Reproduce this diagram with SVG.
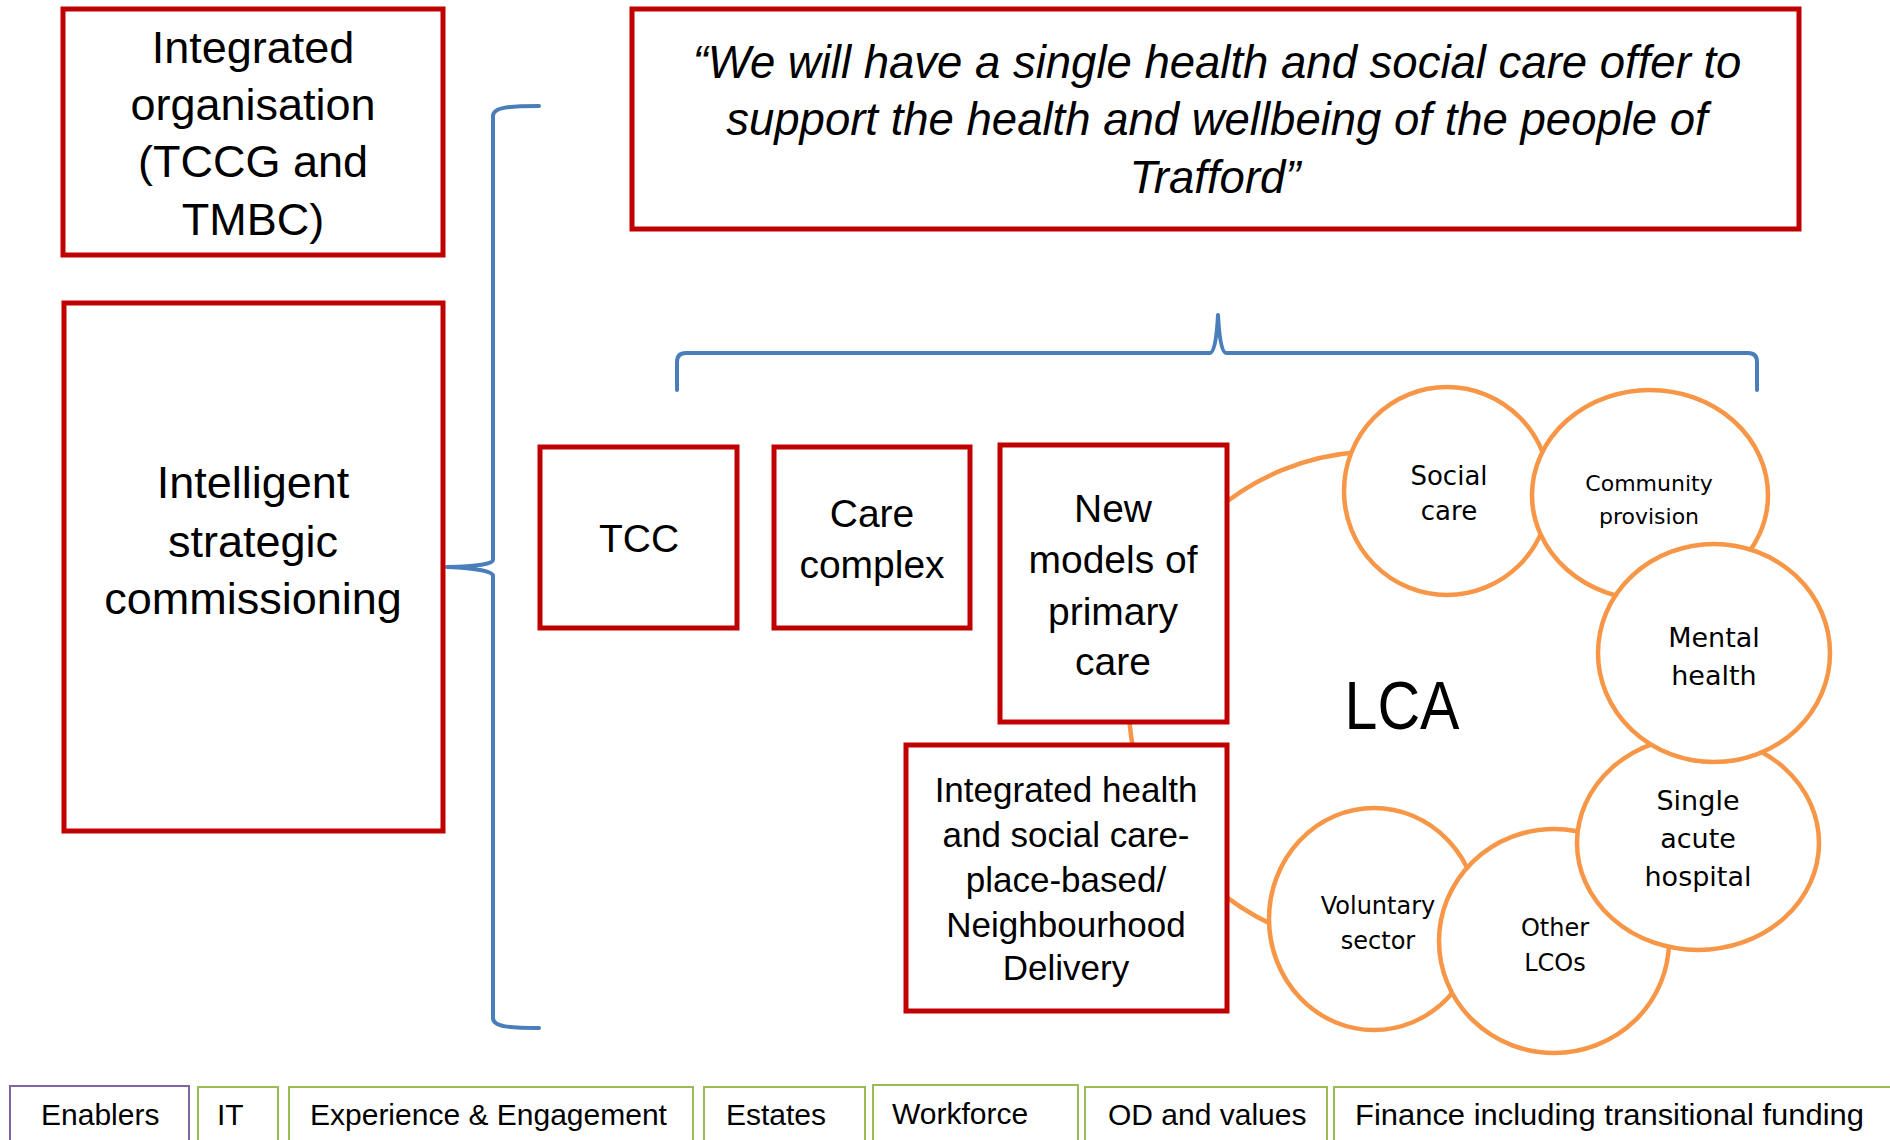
<svg xmlns="http://www.w3.org/2000/svg" width="1890" height="1140" viewBox="0 0 1890 1140">
<style>
.box{fill:#fff;stroke:#c00000;stroke-width:5}
.circ{fill:#fff;stroke:#f79646;stroke-width:4.5}
.brace{fill:none;stroke:#4a7ebb;stroke-width:4;stroke-linejoin:round;stroke-linecap:round}
.arc{fill:none;stroke:#f79646;stroke-width:4.5}
.t{font-family:"Liberation Sans",Arial,sans-serif;fill:#000;text-anchor:middle}
.c{font-family:"DejaVu Sans",Verdana,sans-serif;fill:#000;text-anchor:middle}
.q{font-family:"Liberation Sans",Arial,sans-serif;font-style:italic;fill:#000;text-anchor:middle;font-size:45.5px}
.en{fill:#fff;stroke:#9bbb59;stroke-width:2}
.et{font-family:"Liberation Sans",Arial,sans-serif;fill:#000;font-size:30px}
</style>
<rect width="1890" height="1140" fill="#fff"/>
<g id="connectors">
<path class="arc" d="M1360 452 A248 248 0 0 0 1280 928"/>
<path class="brace" d="M539 106 C510 106 493 107 493 116 L493 560 Q493 566 447 567 Q493 569 493 576 L493 1018 C493 1027 510 1028 539 1028"/>
<path class="brace" d="M677 390 L677 362 Q677 353 686 353 L1210 353 Q1216 353 1218 315 Q1220 353 1226 353 L1748 353 Q1757 353 1757 362 L1757 390"/>
</g>
<g id="n-integrated-org">
<rect class="box" x="63" y="9" width="380" height="246"/>
<text class="t" font-size="45"><tspan x="253" y="63">Integrated</tspan><tspan x="253" y="120">organisation</tspan><tspan x="253" y="177">(TCCG and</tspan><tspan x="253" y="235">TMBC)</tspan></text>
</g>
<g id="n-commissioning">
<rect class="box" x="64" y="303" width="379" height="528"/>
<text class="t" font-size="45"><tspan x="253" y="498">Intelligent</tspan><tspan x="253" y="557">strategic</tspan><tspan x="253" y="614">commissioning</tspan></text>
</g>
<g id="n-quote">
<rect class="box" x="632" y="9" width="1167" height="220"/>
<text class="q"><tspan x="1217" y="78">“We will have a single health and social care offer to</tspan><tspan x="1217" y="135">support the health and wellbeing of the people of</tspan><tspan x="1215" y="193">Trafford”</tspan></text>
</g>
<g id="n-tcc">
<rect class="box" x="540" y="447" width="197" height="181"/>
<text class="t" font-size="39" x="639" y="552">TCC</text>
</g>
<g id="n-care-complex">
<rect class="box" x="774" y="447" width="196" height="181"/>
<text class="t" font-size="39"><tspan x="872" y="527">Care</tspan><tspan x="872" y="578">complex</tspan></text>
</g>
<g id="n-new-models">
<rect class="box" x="1000" y="445" width="227" height="277"/>
<text class="t" font-size="39"><tspan x="1113" y="522">New</tspan><tspan x="1113" y="573">models of</tspan><tspan x="1113" y="625">primary</tspan><tspan x="1113" y="675">care</tspan></text>
</g>
<g id="n-integrated-health">
<rect class="box" x="906" y="745" width="321" height="266"/>
<text class="t" font-size="35"><tspan x="1066" y="802">Integrated health</tspan><tspan x="1066" y="847">and social care-</tspan><tspan x="1066" y="892">place-based/</tspan><tspan x="1066" y="937">Neighbourhood</tspan><tspan x="1066" y="980">Delivery</tspan></text>
</g>
<g id="n-lca">
<text class="t" font-size="68" x="1402" y="729" textLength="115" lengthAdjust="spacingAndGlyphs">LCA</text>
</g>
<g id="n-social-care">
<ellipse class="circ" cx="1447" cy="491" rx="103" ry="104"/>
<text class="c" font-size="26"><tspan x="1449" y="485">Social</tspan><tspan x="1449" y="520">care</tspan></text>
</g>
<g id="n-community">
<ellipse class="circ" cx="1650" cy="495" rx="118" ry="105"/>
<text class="c" font-size="22"><tspan x="1649" y="491">Community</tspan><tspan x="1649" y="524">provision</tspan></text>
</g>
<g id="n-voluntary">
<ellipse class="circ" cx="1374" cy="919" rx="105" ry="111"/>
<text class="c" font-size="24"><tspan x="1378" y="914">Voluntary</tspan><tspan x="1378" y="949">sector</tspan></text>
</g>
<g id="n-other-lcos">
<ellipse class="circ" cx="1554" cy="941" rx="115" ry="112"/>
<text class="c" font-size="24"><tspan x="1555" y="936">Other</tspan><tspan x="1555" y="971">LCOs</tspan></text>
</g>
<g id="n-single-acute">
<ellipse class="circ" cx="1698" cy="843" rx="121" ry="107"/>
<text class="c" font-size="27"><tspan x="1698" y="810">Single</tspan><tspan x="1698" y="848">acute</tspan><tspan x="1698" y="886">hospital</tspan></text>
</g>
<g id="n-mental-health">
<ellipse class="circ" cx="1714" cy="653" rx="116" ry="109"/>
<text class="c" font-size="27"><tspan x="1714" y="647">Mental</tspan><tspan x="1714" y="685">health</tspan></text>
</g>
<g id="n-enablers">
<rect x="10" y="1086" width="179" height="70" fill="#fff" stroke="#8064a2" stroke-width="2"/>
<text class="et" x="41" y="1125">Enablers</text>
</g>
<g id="n-it">
<rect class="en" x="198" y="1087" width="80" height="70"/>
<text class="et" x="217" y="1125">IT</text>
</g>
<g id="n-experience">
<rect class="en" x="289" y="1087" width="404" height="70"/>
<text class="et" x="310" y="1125">Experience &amp; Engagement</text>
</g>
<g id="n-estates">
<rect class="en" x="704" y="1087" width="161" height="70"/>
<text class="et" x="726" y="1125">Estates</text>
</g>
<g id="n-workforce">
<rect class="en" x="873" y="1085" width="205" height="70"/>
<text class="et" x="892" y="1124">Workforce</text>
</g>
<g id="n-od">
<rect class="en" x="1085" y="1087" width="242" height="70"/>
<text class="et" x="1108" y="1125">OD and values</text>
</g>
<g id="n-finance">
<rect class="en" x="1334" y="1087" width="600" height="70"/>
<text class="et" x="1355" y="1125" textLength="509" lengthAdjust="spacingAndGlyphs">Finance including transitional funding</text>
</g>
</svg>
